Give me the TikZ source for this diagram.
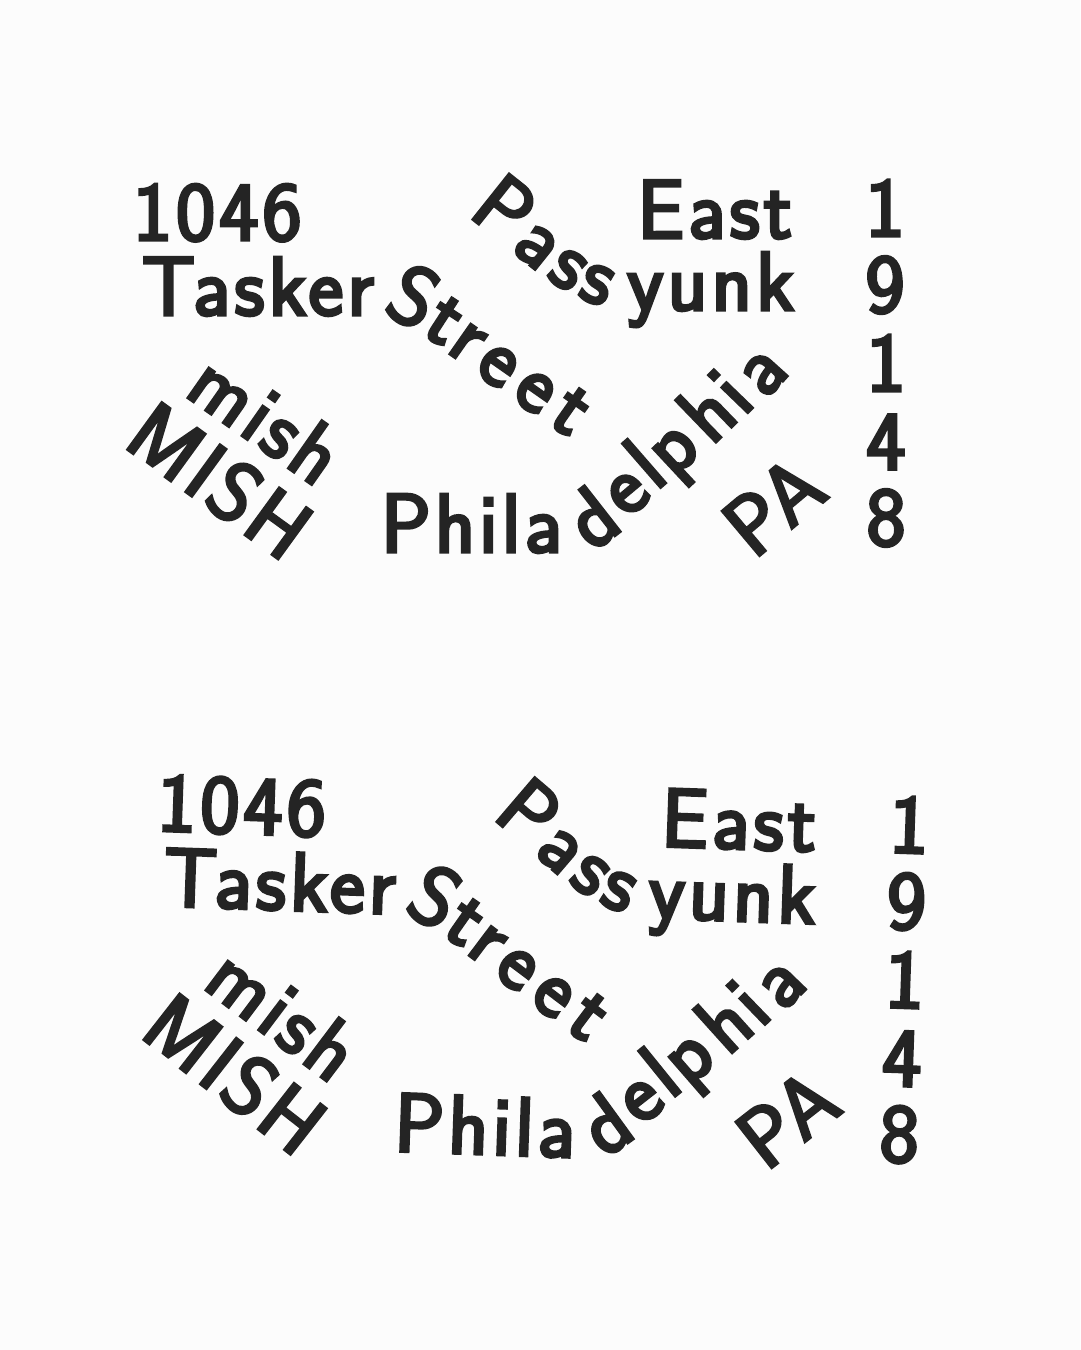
\documentclass[tikz,border=0pt]{standalone}
\usepackage{fontspec}
\newfontfamily\glyphfont{Latin Modern Sans}[FakeBold=4, LetterSpace=5]
\definecolor{ink}{HTML}{242424}
\definecolor{paper}{HTML}{FCFCFC}
\tikzset{
  glyph/.style={inner sep=0pt, outer sep=0pt, text=ink,
    font=\glyphfont\fontsize{83}{83}\selectfont, anchor=base},
  digit/.style={glyph, anchor=center},
}
\newcommand\addressblock[1]{%
  \node[glyph, anchor=base west] (#1-num) at (133,240) {1046};
  \node[glyph, anchor=base west] (#1-tasker) at (142,315) {Tasker};
  \node[glyph, anchor=base east] (#1-east) at (792,238) {East};
  \node[glyph, anchor=base east] (#1-yunk) at (794,310) {yunk};
  \path (466,214) .. controls (540,270) and (570,310) .. (640,310)
     node[glyph, sloped, pos=0.1] (#1-pa1) {P}
     node[glyph, sloped, pos=0.31] (#1-pa2) {a}
     node[glyph, sloped, pos=0.52] (#1-pa3) {s}
     node[glyph, sloped, pos=0.73] (#1-pa4) {s};
  % Street
  \node[glyph, rotate=-27] (#1-st1) at (401,322) {S};
  \node[glyph, rotate=-33] (#1-st2) at (432,340) {t};
  \node[glyph, rotate=-35] (#1-st3) at (456,358) {r};
  \node[glyph, rotate=-35] (#1-st4) at (487,381) {e};
  \node[glyph, rotate=-35] (#1-st5) at (524,407) {e};
  \node[glyph, rotate=-35] (#1-st6) at (558,430) {t};
  % mish MISH
  \node[glyph, rotate=-35] (#1-mish) at (250,441) {mish};
  \node[glyph, rotate=-36] (#1-MISH) at (203,504) {MISH};
  % Philadelphia
  \node[glyph, anchor=base west] (#1-phila) at (381,552) {Phila};
  \node[glyph, rotate=38] (#1-ph1) at (609,540) {d};
  \node[glyph, rotate=40] (#1-ph2) at (640,508) {e};
  \node[glyph, rotate=41] (#1-ph3) at (663,485) {l};
  \node[glyph, rotate=43] (#1-ph4) at (688,465) {p};
  \node[glyph, rotate=44] (#1-ph5) at (726,432) {h};
  \node[glyph, rotate=46] (#1-ph6) at (750,410) {i};
  \node[glyph, rotate=48] (#1-ph7) at (778,386) {a};
  % PA
  \node[glyph, rotate=40] (#1-pa) at (792,528) {PA};
  % zip column
  \node[digit] (#1-z1) at (885,208) {1};
  \node[digit] (#1-z2) at (885,285) {9};
  \node[digit] (#1-z3) at (886,363) {1};
  \node[digit] (#1-z4) at (886,442) {4};
  \node[digit] (#1-z5) at (886,518) {8};
}
\begin{document}
\begin{tikzpicture}[x=1pt, y=-1pt]
  \fill[paper] (0,0) rectangle (1080,1350);
  \useasboundingbox (0,0) rectangle (1080,1350);
  \addressblock{a}
  \begin{scope}[shift={(32,586)}, rotate=-2, transform shape]
    \addressblock{b}
  \end{scope}
\end{tikzpicture}
\end{document}
